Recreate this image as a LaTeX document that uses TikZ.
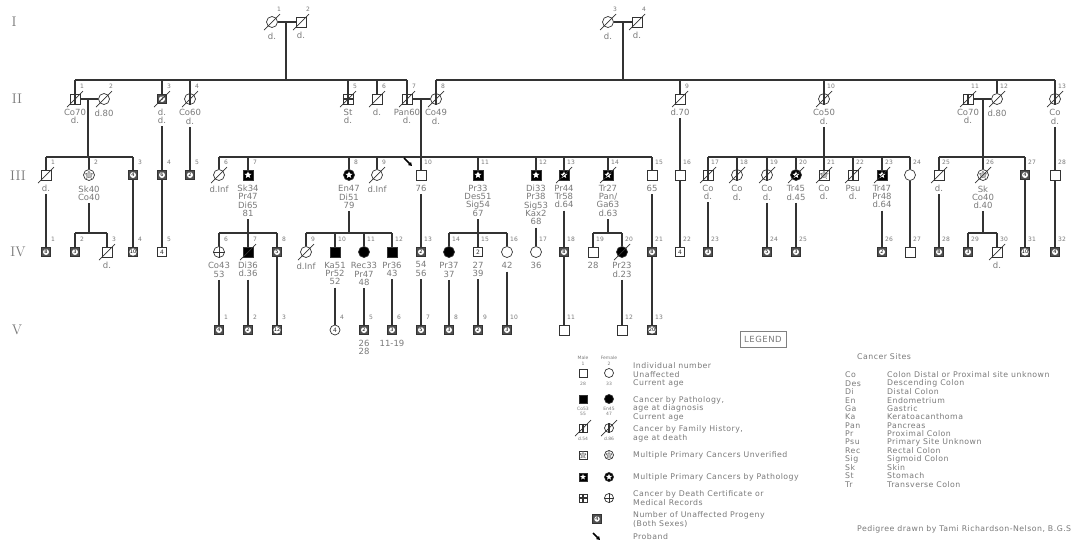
\documentclass[tikz,border=0pt]{standalone}
\usepackage{fontspec}
\newfontfamily\cadfont{DejaVu Sans}
\newfontfamily\cadwide[LetterSpace=6]{DejaVu Sans}
\usetikzlibrary{shapes.geometric,calc,arrows.meta}
\definecolor{txt}{HTML}{7A7A7A}
\definecolor{ln}{HTML}{333333}
\definecolor{progc}{HTML}{505050}
\tikzset{
 sym/.style={draw=ln, line width=0.7, fill=white, inner sep=0, minimum size=10},
 male/.style={sym, rectangle},
 female/.style={sym, circle, minimum size=11},
 prog/.style={rectangle, draw=ln, line width=0.6, fill=progc, inner sep=0, minimum size=9.5},
 progin/.style={circle, fill=white, inner sep=0, minimum size=6, font=\cadfont\fontsize{5}{5}\selectfont, text=black},
 numsym/.style={font=\cadfont\fontsize{6}{6}\selectfont, text=ln},
 pstar/.style={star, star points=5, star point ratio=2.3, fill=white, inner sep=0, minimum size=7.5},
 ustar/.style={star, star points=5, star point ratio=1.9, draw=ln!80, fill=gray!50, line width=0.7, densely dotted, inner sep=0, minimum size=8},
 conn/.style={draw=ln, line width=1.1},
 numlab/.style={font=\cadfont\fontsize{6}{6}\selectfont, text=txt, inner sep=0},
 info/.style={font=\cadfont\fontsize{8.5}{8.3}\selectfont, text=txt, inner sep=0, align=center, anchor=north},
 gen/.style={font=\rmfamily\fontsize{14}{14}\selectfont, text=txt},
 lgtext/.style={font=\cadwide\fontsize{7.8}{8}\selectfont, text=txt, inner sep=0, anchor=west},
 lgsmall/.style={font=\cadfont\fontsize{4.5}{4.5}\selectfont, text=txt, inner sep=0},
 proband/.style={-{Triangle[length=3.5pt,width=4pt]}, line width=1.5, draw=black}
}
\newcommand\pdM[3]{\node[male] (#1) at (#2,#3) {};}
\newcommand\pdF[3]{\node[female] (#1) at (#2,#3) {};}
\newcommand\pdMa[3]{\node[male,fill=black] (#1) at (#2,#3) {};}
\newcommand\pdFa[3]{\node[female,fill=black] (#1) at (#2,#3) {};}
\newcommand\pdP[4]{\node[prog] (#1) at (#2,#3) {}; \node[progin] (#1c) at (#1.center) {#4};}
\newcommand\pdMn[4]{\node[male,minimum size=9.5,numsym] (#1) at (#2,#3) {#4};}
\newcommand\pdFn[4]{\node[female,minimum size=10,numsym] (#1) at (#2,#3) {#4};}
\newcommand\pdBar[1]{\draw[ln,line width=2.6] (#1.north) -- (#1.south);}
\newcommand\pdStar[1]{\node[pstar] (#1s) at (#1.center) {};}
\newcommand\pdMulti[1]{\node[ustar] (#1u) at (#1.center) {};}
\newcommand\pdCrossM[1]{\draw[ln,line width=1.8] (#1.north) -- (#1.south) (#1.west) -- (#1.east);}
\newcommand\pdCrossF[1]{\draw[ln,line width=0.8] (#1.north) -- (#1.south) (#1.west) -- (#1.east);}
\newcommand\pdDead[1]{\draw[ln,line width=0.7] ($(#1.center)+(-8,8)$) -- ($(#1.center)+(8,-8)$);}
\newcommand\pdId[2]{\node[numlab] (#1n) at ($(#1.center)+(7,-12.5)$) {#2};}
\newcommand\pdInfo[2]{\node[info] (#1i) at ($(#1.south)+(0,4.5)$) {#2};}
\newcommand\pdDown[2]{\draw[conn] ([yshift=-2.5pt]#1i.south) -- (#2);}
\newcommand\pdDownSib[2]{\draw[conn] ([yshift=-2.5pt]#1i.south) -- (#1i.south |- #2);}
\newcommand\pdSib[4]{\coordinate (#1a) at (#2,#4); \coordinate (#1b) at (#3,#4); \draw[conn] (#1a) -- (#1b);}
\newcommand\pdLg[3]{\node[lgtext] (#1) at (633,#2) {#3};}
\newcommand\pdCs[4]{\node[lgtext] (#1a) at (845,#2) {#3}; \node[lgtext] (#1b) at (887,#2) {#4};}
\begin{document}
\begin{tikzpicture}[x=1pt,y=-1pt]
\useasboundingbox (0,0) rectangle (1082,547);
\fill[white] (0,0) rectangle (1082,547);
% generation labels
\node[gen] (gI) at (14,22) {I};
\node[gen] (gII) at (17,99) {II};
\node[gen] (gIII) at (18,176) {III};
\node[gen] (gIV) at (18,252) {IV};
\node[gen] (gV) at (17,330) {V};
% ---------- Generation I
\pdF{I1}{272}{22}\pdDead{I1}\pdId{I1}{1}\pdInfo{I1}{d.}
\pdM{I2}{301}{22}\pdDead{I2}\pdId{I2}{2}\pdInfo{I2}{d.}
\pdF{I3}{608}{22}\pdDead{I3}\pdId{I3}{3}\pdInfo{I3}{d.}
\pdM{I4}{637}{22}\pdDead{I4}\pdId{I4}{4}\pdInfo{I4}{d.}
\draw[conn] (I1) -- (I2);
\draw[conn] (I3) -- (I4);
\coordinate (mI12) at (286,22);
\coordinate (mI34) at (623,22);
% ---------- Generation II
\pdM{II1}{75}{99}\pdBar{II1}\pdDead{II1}\pdId{II1}{1}\pdInfo{II1}{Co70\\d.}
\pdF{II2}{104}{99}\pdDead{II2}\pdId{II2}{2}\pdInfo{II2}{d.80}
\pdP{II3}{162}{99}{2}\pdDead{II3}\pdId{II3}{3}\pdInfo{II3}{d.\\d.}
\pdF{II4}{190}{99}\pdBar{II4}\pdDead{II4}\pdId{II4}{4}\pdInfo{II4}{Co60\\d.}
\pdM{II5}{348}{99}\pdCrossM{II5}\pdDead{II5}\pdId{II5}{5}\pdInfo{II5}{St\\d.}
\pdM{II6}{377}{99}\pdDead{II6}\pdId{II6}{6}\pdInfo{II6}{d.}
\pdM{II7}{407}{99}\pdBar{II7}\pdDead{II7}\pdId{II7}{7}\pdInfo{II7}{Pan60\\d.}
\pdF{II8}{436}{99}\pdBar{II8}\pdDead{II8}\pdId{II8}{8}\pdInfo{II8}{Co49\\d.}
\pdM{II9}{680}{99}\pdDead{II9}\pdId{II9}{9}\pdInfo{II9}{d.70}
\pdF{II10}{824}{99}\pdBar{II10}\pdDead{II10}\pdId{II10}{10}\pdInfo{II10}{Co50\\d.}
\pdM{II11}{968}{99}\pdBar{II11}\pdDead{II11}\pdId{II11}{11}\pdInfo{II11}{Co70\\d.}
\pdF{II12}{997}{99}\pdDead{II12}\pdId{II12}{12}\pdInfo{II12}{d.80}
\pdF{II13}{1055}{99}\pdBar{II13}\pdDead{II13}\pdId{II13}{13}\pdInfo{II13}{Co\\d.}
\draw[conn] (II1) -- (II2);
\draw[conn] (II7) -- (II8);
\draw[conn] (II11) -- (II12);
\pdSib{sA}{75}{407}{80}
\pdSib{sB}{436}{1055}{80}
\draw[conn] (mI12) -- (mI12 |- sAa);
\draw[conn] (mI34) -- (mI34 |- sBa);
\foreach \n in {II1,II3,II4,II5,II6,II7,II8,II9,II10,II12,II13} \draw[conn] (\n) -- (\n |- sAa);
% ---------- Generation III
\pdM{III1}{46}{175}\pdDead{III1}\pdId{III1}{1}\pdInfo{III1}{d.}
\pdF{III2}{89}{175}\pdMulti{III2}\pdId{III2}{2}\pdInfo{III2}{Sk40\\Co40}
\pdP{III3}{133}{175}{4}\pdId{III3}{3}
\pdP{III4}{162}{175}{6}\pdId{III4}{4}
\pdP{III5}{190}{175}{2}\pdId{III5}{5}
\pdF{III6}{219}{175}\pdDead{III6}\pdId{III6}{6}\pdInfo{III6}{d.Inf}
\pdMa{III7}{248}{175}\pdStar{III7}\pdId{III7}{7}\pdInfo{III7}{Sk34\\Pr47\\Di65\\81}
\pdFa{III8}{349}{175}\pdStar{III8}\pdId{III8}{8}\pdInfo{III8}{En47\\Di51\\79}
\pdF{III9}{377}{175}\pdDead{III9}\pdId{III9}{9}\pdInfo{III9}{d.Inf}
\pdM{III10}{421}{175}\pdId{III10}{10}\pdInfo{III10}{76}
\pdMa{III11}{478}{175}\pdStar{III11}\pdId{III11}{11}\pdInfo{III11}{Pr33\\Des51\\Sig54\\67}
\pdMa{III12}{536}{175}\pdStar{III12}\pdId{III12}{12}\pdInfo{III12}{Di33\\Pr38\\Sig53\\Kax2\\68}
\pdMa{III13}{564}{175}\pdStar{III13}\pdDead{III13}\pdId{III13}{13}\pdInfo{III13}{Pr44\\Tr58\\d.64}
\pdMa{III14}{608}{175}\pdStar{III14}\pdDead{III14}\pdId{III14}{14}\pdInfo{III14}{Tr27\\Pan/\\Ga63\\d.63}
\pdM{III15}{652}{175}\pdId{III15}{15}\pdInfo{III15}{65}
\pdM{III16}{680}{175}\pdId{III16}{16}
\pdM{III17}{708}{175}\pdBar{III17}\pdDead{III17}\pdId{III17}{17}\pdInfo{III17}{Co\\d.}
\pdF{III18}{737}{175}\pdBar{III18}\pdDead{III18}\pdId{III18}{18}\pdInfo{III18}{Co\\d.}
\pdF{III19}{767}{175}\pdBar{III19}\pdDead{III19}\pdId{III19}{19}\pdInfo{III19}{Co\\d.}
\pdFa{III20}{796}{175}\pdStar{III20}\pdDead{III20}\pdId{III20}{20}\pdInfo{III20}{Tr45\\d.45}
\pdM{III21}{824}{175}\pdMulti{III21}\pdDead{III21}\pdId{III21}{21}\pdInfo{III21}{Co\\d.}
\pdM{III22}{853}{175}\pdBar{III22}\pdDead{III22}\pdId{III22}{22}\pdInfo{III22}{Psu\\d.}
\pdMa{III23}{882}{175}\pdStar{III23}\pdDead{III23}\pdId{III23}{23}\pdInfo{III23}{Tr47\\Pr48\\d.64}
\pdF{III24}{910}{175}\pdId{III24}{24}
\pdM{III25}{939}{175}\pdDead{III25}\pdId{III25}{25}\pdInfo{III25}{d.}
\pdF{III26}{983}{175}\pdMulti{III26}\pdDead{III26}\pdId{III26}{26}\pdInfo{III26}{Sk\\Co40\\d.40}
\pdP{III27}{1025}{175}{4}\pdId{III27}{27}
\pdM{III28}{1055}{175}\pdId{III28}{28}
% links II -> III
\pdSib{sC}{46}{133}{157}
\pdSib{sD}{219}{652}{157}
\pdSib{sE}{708}{910}{157}
\pdSib{sF}{939}{1025}{157}
\coordinate (mII12) at (88,99);
\coordinate (mII78) at (421,99);
\coordinate (mII1112) at (983,99);
\draw[conn] (mII12) -- (mII12 |- sCa);
\draw[conn] (mII78) -- (mII78 |- sDa);
\draw[conn] (mII1112) -- (mII1112 |- sFa);
\pdDownSib{II10}{sEa}
\pdDown{II3}{III4}
\pdDown{II4}{III5}
\pdDown{II9}{III16}
\pdDown{II13}{III28}
\foreach \n in {III1,III2,III3,III6,III7,III8,III9,III10,III11,III12,III13,III14,III15,III17,III18,III19,III20,III21,III22,III23,III24,III25,III26,III27} \draw[conn] (\n) -- (\n |- sCa);
% ---------- Generation IV
\pdP{IV1}{46}{252}{8}\pdId{IV1}{1}
\pdP{IV2}{75}{252}{3}\pdId{IV2}{2}
\pdM{IV3}{107}{252}\pdDead{IV3}\pdId{IV3}{3}\pdInfo{IV3}{d.}
\pdP{IV4}{133}{252}{10}\pdId{IV4}{4}
\pdMn{IV5}{162}{252}{4}\pdId{IV5}{5}
\pdF{IV6}{219}{252}\pdCrossF{IV6}\pdId{IV6}{6}\pdInfo{IV6}{Co43\\53}
\pdMa{IV7}{248}{252}\pdDead{IV7}\pdId{IV7}{7}\pdInfo{IV7}{Di36\\d.36}
\pdP{IV8}{277}{252}{5}\pdId{IV8}{8}
\pdF{IV9}{306}{252}\pdDead{IV9}\pdId{IV9}{9}\pdInfo{IV9}{d.Inf}
\pdMa{IV10}{335}{252}\pdId{IV10}{10}\pdInfo{IV10}{Ka51\\Pr52\\52}
\pdFa{IV11}{364}{252}\pdId{IV11}{11}\pdInfo{IV11}{Rec33\\Pr47\\48}
\pdMa{IV12}{392}{252}\pdId{IV12}{12}\pdInfo{IV12}{Pr36\\43}
\pdP{IV13}{421}{252}{2}\pdId{IV13}{13}\pdInfo{IV13}{54\\56}
\pdFa{IV14}{449}{252}\pdId{IV14}{14}\pdInfo{IV14}{Pr37\\37}
\pdMn{IV15}{478}{252}{2}\pdId{IV15}{15}\pdInfo{IV15}{27\\39}
\pdF{IV16}{507}{252}\pdId{IV16}{16}\pdInfo{IV16}{42}
\pdF{IV17}{536}{252}\pdId{IV17}{17}\pdInfo{IV17}{36}
\pdP{IV18}{564}{252}{8}\pdId{IV18}{18}
\pdM{IV19}{593}{252}\pdId{IV19}{19}\pdInfo{IV19}{28}
\pdFa{IV20}{622}{252}\pdDead{IV20}\pdId{IV20}{20}\pdInfo{IV20}{Pr23\\d.23}
\pdP{IV21}{652}{252}{8}\pdId{IV21}{21}
\pdMn{IV22}{680}{252}{4}\pdId{IV22}{22}
\pdP{IV23}{708}{252}{3}\pdId{IV23}{23}
\pdP{IV24}{767}{252}{5}\pdId{IV24}{24}
\pdP{IV25}{796}{252}{3}\pdId{IV25}{25}
\pdP{IV26}{882}{252}{2}\pdId{IV26}{26}
\pdM{IV27}{910}{252}\pdId{IV27}{27}
\pdP{IV28}{939}{252}{8}\pdId{IV28}{28}
\pdP{IV29}{968}{252}{3}\pdId{IV29}{29}
\pdM{IV30}{997}{252}\pdDead{IV30}\pdId{IV30}{30}\pdInfo{IV30}{d.}
\pdP{IV31}{1025}{252}{10}\pdId{IV31}{31}
\pdP{IV32}{1055}{252}{4}\pdId{IV32}{32}
% links III -> IV
\pdSib{sG}{75}{107}{233}
\pdSib{sH}{219}{277}{233}
\pdSib{sI}{306}{392}{233}
\pdSib{sJ}{449}{507}{233}
\pdSib{sK}{593}{622}{233}
\pdSib{sL}{968}{997}{233}
\pdDownSib{III2}{sGa}
\pdDownSib{III7}{sHa}
\pdDownSib{III8}{sIa}
\pdDownSib{III11}{sJa}
\pdDownSib{III14}{sKa}
\pdDownSib{III26}{sLa}
\pdDown{III1}{IV1}
\draw[conn] (III3) -- (IV4);
\draw[conn] (III4) -- (IV5);
\pdDown{III10}{IV13}
\pdDown{III12}{IV17}
\pdDown{III13}{IV18}
\pdDown{III15}{IV21}
\draw[conn] (III16) -- (IV22);
\pdDown{III17}{IV23}
\pdDown{III19}{IV24}
\pdDown{III20}{IV25}
\pdDown{III23}{IV26}
\draw[conn] (III24) -- (IV27);
\pdDown{III25}{IV28}
\draw[conn] (III27) -- (IV31);
\draw[conn] (III28) -- (IV32);
\foreach \n in {IV2,IV3,IV6,IV7,IV8,IV9,IV10,IV11,IV12,IV14,IV15,IV16,IV19,IV20,IV29,IV30} \draw[conn] (\n) -- (\n |- sGa);
% ---------- Generation V
\pdP{V1}{219}{330}{4}\pdId{V1}{1}
\pdP{V2}{248}{330}{2}\pdId{V2}{2}
\pdP{V3}{277}{330}{12}\pdId{V3}{3}
\pdFn{V4}{335}{330}{4}\pdId{V4}{4}
\pdP{V5}{364}{330}{2}\pdId{V5}{5}\pdInfo{V5}{26\\28}
\pdP{V6}{392}{330}{3}\pdId{V6}{6}\pdInfo{V6}{11-19}
\pdP{V7}{421}{330}{5}\pdId{V7}{7}
\pdP{V8}{449}{330}{3}\pdId{V8}{8}
\pdP{V9}{478}{330}{2}\pdId{V9}{9}
\pdP{V10}{507}{330}{3}\pdId{V10}{10}
\pdM{V11}{564}{330}\pdId{V11}{11}
\pdM{V12}{622}{330}\pdId{V12}{12}
\pdP{V13}{652}{330}{20}\pdId{V13}{13}
\pdDown{IV6}{V1}
\pdDown{IV7}{V2}
\draw[conn] (IV8) -- (V3);
\pdDown{IV10}{V4}
\pdDown{IV11}{V5}
\pdDown{IV12}{V6}
\pdDown{IV13}{V7}
\pdDown{IV14}{V8}
\pdDown{IV15}{V9}
\pdDown{IV16}{V10}
\draw[conn] (IV18) -- (V11);
\pdDown{IV20}{V12}
\draw[conn] (IV21) -- (V13);
% proband arrow
\coordinate (prA) at (404,158);
\coordinate (prB) at (412,166);
\draw[proband] (prA) -- (prB);
% ---------- Legend
\node[draw=gray, line width=0.8, minimum width=46, minimum height=16, inner sep=0, font=\cadwide\fontsize{8.5}{8.5}\selectfont, text=txt] (lgbox) at (763,339) {LEGEND};
\node[lgsmall] (lgMale) at (583,358) {Male};
\node[lgsmall] (lgFemale) at (609,358) {Female};
\node[lgsmall] (lgN1) at (583,363.5) {1};
\node[lgsmall] (lgN2) at (609,363.5) {2};
\node[male,minimum size=8] (LM1) at (583,373) {};
\node[female,minimum size=9] (LF1) at (609,373) {};
\node[lgsmall] (lgA1) at (583,383.5) {28};
\node[lgsmall] (lgA2) at (609,383.5) {33};
\pdLg{lt1}{366}{Individual number}
\pdLg{lt2}{374.5}{Unaffected}
\pdLg{lt3}{383}{Current age}
\node[male,minimum size=8,fill=black] (LM2) at (583,399) {};
\node[female,minimum size=9,fill=black] (LF2) at (609,399) {};
\node[lgsmall] (lgB1) at (583,409) {Co53};
\node[lgsmall] (lgB2) at (583,414) {55};
\node[lgsmall] (lgB3) at (609,409) {En45};
\node[lgsmall] (lgB4) at (609,414) {47};
\pdLg{lt4}{400}{Cancer by Pathology,}
\pdLg{lt5}{408.5}{age at diagnosis}
\pdLg{lt6}{417}{Current age}
\node[male,minimum size=8] (LM3) at (583,428) {};\pdBar{LM3}\pdDead{LM3}
\node[female,minimum size=9] (LF3) at (609,428) {};\pdBar{LF3}\pdDead{LF3}
\node[lgsmall] (lgC1) at (583,438.5) {d.54};
\node[lgsmall] (lgC2) at (609,438.5) {d.86};
\pdLg{lt7}{429.5}{Cancer by Family History,}
\pdLg{lt8}{438}{age at death}
\node[male,minimum size=8] (LM4) at (583,455) {};\node[ustar,minimum size=7] (LM4u) at (LM4.center) {};
\node[female,minimum size=9] (LF4) at (609,455) {};\node[ustar,minimum size=7] (LF4u) at (LF4.center) {};
\pdLg{lt9}{455}{Multiple Primary Cancers Unverified}
\node[male,minimum size=8,fill=black] (LM5) at (583,477) {};\node[pstar,minimum size=6] (LM5s) at (LM5.center) {};
\node[female,minimum size=9,fill=black] (LF5) at (609,477) {};\node[pstar,minimum size=6.5] (LF5s) at (LF5.center) {};
\pdLg{lt10}{477.5}{Multiple Primary Cancers by Pathology}
\node[male,minimum size=8] (LM6) at (583,498) {};\pdCrossM{LM6}
\node[female,minimum size=9] (LF6) at (609,498) {};\pdCrossF{LF6}
\pdLg{lt11}{494.5}{Cancer by Death Certificate or}
\pdLg{lt12}{503}{Medical Records}
\node[prog,minimum size=8.5] (LP) at (597,519) {};\node[progin,minimum size=5.5] (LPc) at (LP.center) {4};
\pdLg{lt13}{515.5}{Number of Unaffected Progeny}
\pdLg{lt14}{524}{(Both Sexes)}
\coordinate (lprA) at (593,533);
\coordinate (lprB) at (600,540);
\draw[proband] (lprA) -- (lprB);
\pdLg{lt15}{537}{Proband}
% ---------- Cancer sites
\node[lgtext] (csT) at (857,357) {Cancer Sites};
\pdCs{cs1}{375}{Co}{Colon Distal or Proximal site unknown}
\pdCs{cs2}{383.4}{Des}{Descending Colon}
\pdCs{cs3}{391.8}{Di}{Distal Colon}
\pdCs{cs4}{400.2}{En}{Endometrium}
\pdCs{cs5}{408.6}{Ga}{Gastric}
\pdCs{cs6}{417}{Ka}{Keratoacanthoma}
\pdCs{cs7}{425.4}{Pan}{Pancreas}
\pdCs{cs8}{433.8}{Pr}{Proximal Colon}
\pdCs{cs9}{442.2}{Psu}{Primary Site Unknown}
\pdCs{cs10}{450.6}{Rec}{Rectal Colon}
\pdCs{cs11}{459}{Sig}{Sigmoid Colon}
\pdCs{cs12}{467.4}{Sk}{Skin}
\pdCs{cs13}{475.8}{St}{Stomach}
\pdCs{cs14}{484.2}{Tr}{Transverse Colon}
\node[lgtext] (credit) at (857,529) {Pedigree drawn by Tami Richardson-Nelson, B.G.S};
\end{tikzpicture}
\end{document}
